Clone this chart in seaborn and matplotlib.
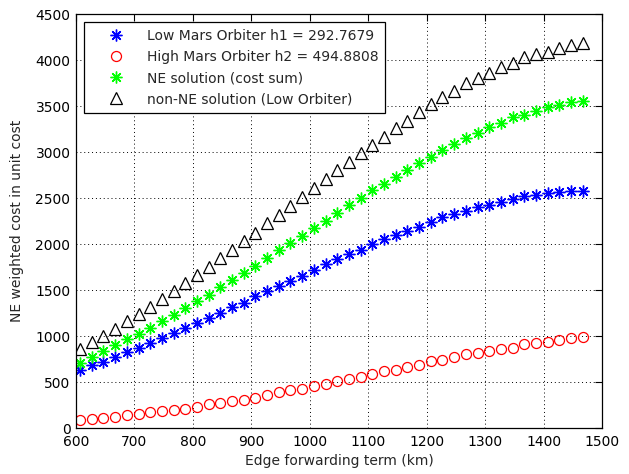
import numpy as np
import pandas as pd
import matplotlib
matplotlib.use("Agg")
import matplotlib.pyplot as plt
import seaborn as sns

# ---- data ----
x_km = [607 + 20 * i for i in range(44)]

low_orbiter = [628, 680, 720, 773, 827, 875, 925, 975, 1034, 1092, 1143, 1201, 1251, 1315,
               1360, 1430, 1484, 1542, 1603, 1656, 1712, 1781, 1832, 1890, 1934, 1999, 2050,
               2097, 2144, 2187, 2242, 2289, 2325, 2361, 2398, 2423, 2459, 2485, 2521, 2532,
               2557, 2568, 2579, 2579]
high_orbiter = [84, 100, 108, 115, 138, 157, 174, 185, 195, 211, 232, 258, 272, 294, 305, 331,
                360, 387, 410, 429, 454, 483, 511, 538, 555, 584, 620, 635, 664, 686, 729, 744,
                770, 802, 816, 838, 864, 875, 911, 925, 936, 954, 973, 990]
ne_sum = [707, 775, 838, 900, 962, 1020, 1092, 1164, 1226, 1299, 1382, 1450, 1530, 1604, 1684,
          1765, 1843, 1938, 2010, 2086, 2170, 2252, 2340, 2423, 2496, 2587, 2652, 2731, 2804,
          2877, 2942, 3022, 3082, 3148, 3210, 3269, 3312, 3378, 3403, 3449, 3486, 3511, 3547,
          3558]
non_ne = [864, 936, 1000, 1081, 1164, 1240, 1317, 1397, 1490, 1575, 1667, 1752, 1843, 1940,
          2030, 2120, 2224, 2320, 2412, 2507, 2605, 2703, 2804, 2894, 2986, 3076, 3167, 3258,
          3341, 3432, 3519, 3595, 3660, 3747, 3802, 3863, 3922, 3972, 4030, 4066, 4092, 4128,
          4164, 4183]

labels = ["Low Mars Orbiter h1 = 292.7679",
          "High Mars Orbiter h2 = 494.8808",
          "NE solution (cost sum)",
          "non-NE solution (Low Orbiter)"]
x_ticks = [600, 700, 800, 900, 1000, 1100, 1200, 1300, 1400, 1500]
y_ticks = [0, 500, 1000, 1500, 2000, 2500, 3000, 3500, 4000, 4500]

# ---- style ----
sns.set_style("white")
plt.rcParams["font.family"] = ["DejaVu Sans"]
FS = 10
plt.rcParams["font.size"] = FS

fig = plt.figure(figsize=(6.29, 4.74), dpi=100)
ax = fig.add_axes([76 / 629, 1 - 428 / 474, (602 - 76) / 629, (428 - 14) / 474])

series = [
    (low_orbiter, (0, 0, 1), (8, 2, 0), 8.5, 1.0),
    (high_orbiter, (1, 0, 0), "o", 7.2, 0.9),
    (ne_sum, (0, 1, 0), (8, 2, 0), 8.5, 1.0),
    (non_ne, (0, 0, 0), "^", 8.5, 0.9),
]
for (vals, col, mk, ms, mew), lab in zip(series, labels):
    df = pd.DataFrame({"x": x_km, "y": vals})
    sns.lineplot(data=df, x="x", y="y", ax=ax, color=col, marker=mk, linestyle="",
                 markersize=ms, markerfacecolor="none", markeredgecolor=col,
                 markeredgewidth=mew, label=lab)

ax.set_xlim(600, 1500)
ax.set_ylim(0, 4500)
ax.set_xticks(x_ticks)
ax.set_yticks(y_ticks)
ax.set_xlabel("Edge forwarding term (km)", fontsize=FS, labelpad=4)
ax.set_ylabel("NE weighted cost in unit cost", fontsize=FS, labelpad=8)
ax.grid(True, color="black", linestyle=(0, (1, 3)), linewidth=0.7)
ax.tick_params(direction="in", length=5, width=0.8, top=True, right=True,
               labelsize=FS, colors="black")
ax.tick_params(axis="x", pad=5)
ax.tick_params(axis="y", pad=4)
for s in ax.spines.values():
    s.set_color("black")
    s.set_linewidth(0.9)

leg = ax.legend(loc="upper left", numpoints=1, fontsize=FS, frameon=True, fancybox=False,
                edgecolor="black", framealpha=1, borderaxespad=0.6, handlelength=3.6,
                handletextpad=0.4, labelspacing=0.5, borderpad=0.5)
leg.get_frame().set_linewidth(0.9)

fig.savefig("out.png", dpi=100)
